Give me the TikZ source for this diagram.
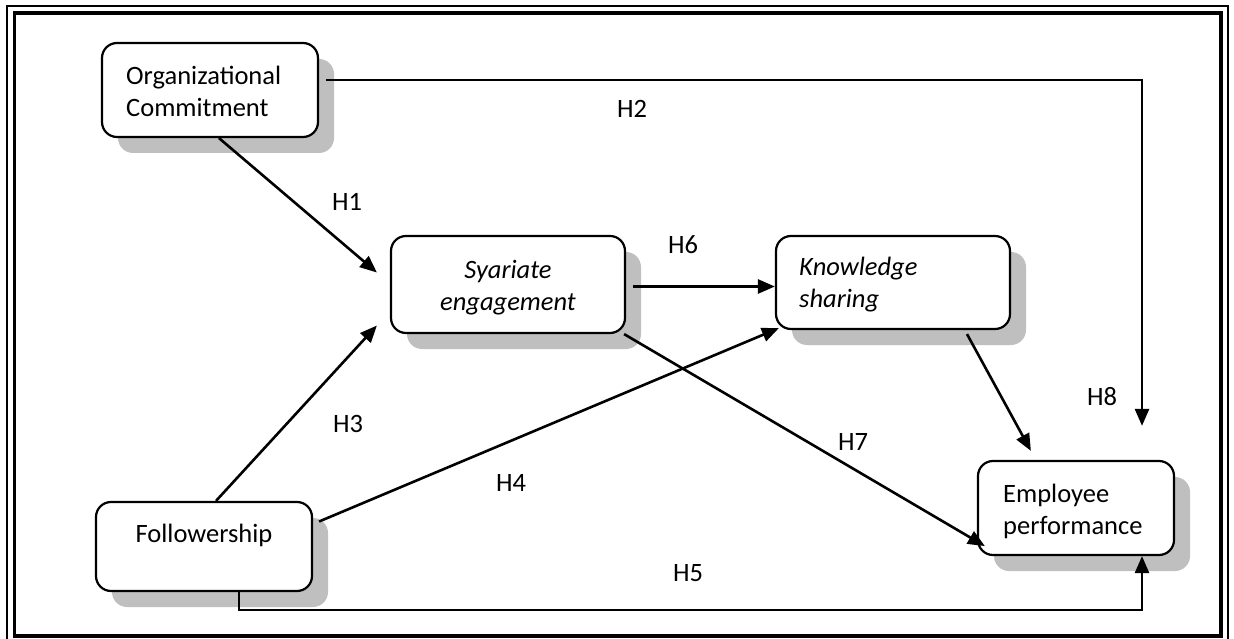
\documentclass[tikz,border=0pt]{standalone}
\usepackage{fontspec}
\setmainfont{Carlito}
\usetikzlibrary{arrows.meta,shadows,calc}
\definecolor{shadowgray}{HTML}{BFBFBF}
\begin{document}
\begin{tikzpicture}[x=1pt,y=-1pt,
  box/.style={draw, line width=2.2pt, rounded corners=15pt, fill=white, inner sep=0pt,
    drop shadow={shadow xshift=16pt, shadow yshift=-16pt, fill=shadowgray, opacity=1}},
  txt/.style={inner sep=0pt, font=\fontsize{26.5}{32}\selectfont},
  hyp/.style={inner sep=0pt, font=\fontsize{26.5}{32}\selectfont},
  link/.style={line width=2.6pt, -{Triangle[length=17pt,width=14pt]}}]
\useasboundingbox (0,0) rectangle (1234,639);
\clip (0,0) rectangle (1234,639);

% double frame
\draw[line width=1.6pt] (7,6) rectangle (1228,648);
\draw[line width=3.8pt] (14.5,13) rectangle (1221,636);

% boxes
\node[box, minimum width=216pt, minimum height=94pt] (oc) at (210,90) {};
\node[box, minimum width=234pt, minimum height=97pt] (se) at (508,284.5) {};
\node[box, minimum width=234pt, minimum height=93pt] (ks) at (893,282.5) {};
\node[box, minimum width=196pt, minimum height=94pt] (ep) at (1076,508) {};
\node[box, minimum width=216pt, minimum height=89pt] (fo) at (204,546.5) {};

% box texts
\node[txt, align=left, anchor=west] (oct) at (126,91) {Organizational\\Commitment};
\node[txt, align=center, font=\fontsize{26.5}{32}\selectfont\itshape] (set) at (508,288) {Syariate\\engagement};
\node[txt, align=left, anchor=west, font=\fontsize{26.5}{32}\selectfont\itshape] (kst) at (799,285) {Knowledge\\sharing};
\node[txt, align=left, anchor=west] (ept) at (1003,511) {Employee\\performance};
\node[txt] (fot) at (204,535) {Followership};

% connectors
\draw[link] ($(oc.south)+(9,0)$) -- ($(se.west)+(-13,-12)$);
\draw[link] ($(oc.east)+(7,-10)$) -| ($(ep.north)+(66,-34)$);
\draw[link] ($(fo.north)+(12,0)$) -- ($(se.west)+(-13,41)$);
\draw[link] ($(fo.east)+(6,-25)$) -- ($(ks.south west)+(4,-2)$);
\draw[link] ($(fo.south)+(35,0)$) -- ++(0,18) -| ($(ep.south)+(66,0)$);
\coordinate (h6s) at ($(se.east)+(7,2)$);
\draw[link] (h6s) -- (h6s -| ks.west);
\draw[link] ($(se.south east)+(-2,0)$) -- ($(ep.south west)+(8,-10)$);
\draw[link] ($(ks.south)+(74,4)$) -- ($(ep.north west)+(54,-9)$);

% hypothesis labels
\node[hyp] (h1) at (347,202) {H1};
\node[hyp] (h2) at (632,109) {H2};
\node[hyp] (h3) at (348,424) {H3};
\node[hyp] (h4) at (511,483) {H4};
\node[hyp] (h5) at (688,573) {H5};
\node[hyp] (h6) at (683,245) {H6};
\node[hyp] (h7) at (853,442) {H7};
\node[hyp] (h8) at (1102,397) {H8};
\end{tikzpicture}
\end{document}
